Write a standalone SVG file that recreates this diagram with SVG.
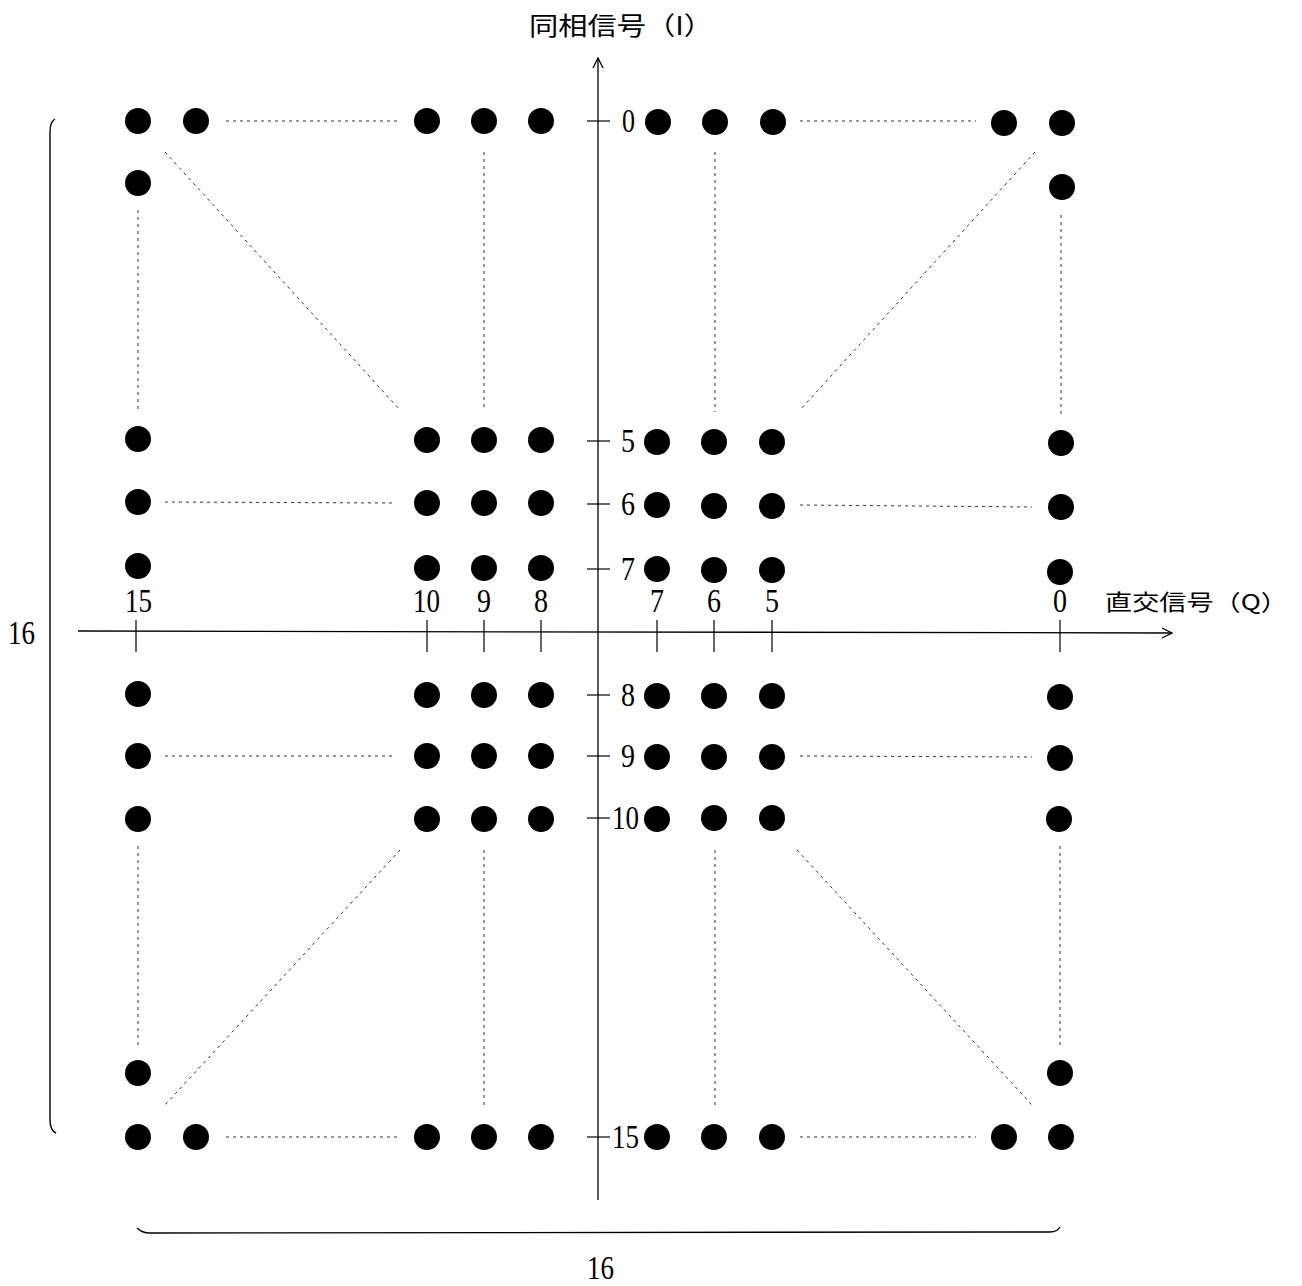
<svg xmlns="http://www.w3.org/2000/svg" width="1302" height="1286" viewBox="0 0 1302 1286">
<style>
.dot{fill:#000}
.ax{stroke:#000;stroke-width:1.3;fill:none}
.tk{stroke:#000;stroke-width:1.2}
.ds{stroke:#333;stroke-width:1;stroke-dasharray:3 4;fill:none}
.br{stroke:#000;stroke-width:1.4;fill:none}
.num{font-family:"Liberation Serif","Noto Serif CJK JP",serif;font-size:34px;fill:#000}
.lab{font-family:"Noto Sans CJK JP","Noto Sans CJK SC",sans-serif;fill:#000}
</style>
<defs>
<marker id="arr" viewBox="0 0 12 12" refX="11" refY="6" markerWidth="12" markerHeight="12" markerUnits="userSpaceOnUse" orient="auto">
<path d="M1,1 L11,6 L1,11" fill="none" stroke="#000" stroke-width="1.3"/>
</marker>
</defs>
<rect width="1302" height="1286" fill="#fff"/>
<g id="axes">
<line class="ax" x1="598" y1="1200" x2="598" y2="58" marker-end="url(#arr)"/>
<line class="ax" x1="78" y1="631" x2="1172" y2="633" marker-end="url(#arr)"/>
<text class="lab" x="529" y="35" font-size="25" textLength="184" lengthAdjust="spacingAndGlyphs">同相信号（I）</text>
<text class="lab" x="1105" y="610" font-size="22" textLength="183" lengthAdjust="spacingAndGlyphs">直交信号（Q）</text>
</g>
<g id="ticks-i">
<line class="tk" x1="587" y1="121" x2="610" y2="121"/>
<line class="tk" x1="587" y1="441" x2="610" y2="441"/>
<line class="tk" x1="587" y1="504" x2="610" y2="504"/>
<line class="tk" x1="587" y1="569" x2="610" y2="569"/>
<line class="tk" x1="587" y1="695" x2="610" y2="695"/>
<line class="tk" x1="587" y1="756" x2="610" y2="756"/>
<line class="tk" x1="587" y1="818" x2="610" y2="818"/>
<line class="tk" x1="587" y1="1137" x2="610" y2="1137"/>
<text class="num" x="622" y="132" textLength="13" lengthAdjust="spacingAndGlyphs">0</text>
<text class="num" x="621" y="452" textLength="14" lengthAdjust="spacingAndGlyphs">5</text>
<text class="num" x="621" y="515" textLength="14" lengthAdjust="spacingAndGlyphs">6</text>
<text class="num" x="621" y="580" textLength="14" lengthAdjust="spacingAndGlyphs">7</text>
<text class="num" x="621" y="706" textLength="14" lengthAdjust="spacingAndGlyphs">8</text>
<text class="num" x="621" y="767" textLength="14" lengthAdjust="spacingAndGlyphs">9</text>
<text class="num" x="612" y="829" textLength="27" lengthAdjust="spacingAndGlyphs">10</text>
<text class="num" x="612" y="1148" textLength="27" lengthAdjust="spacingAndGlyphs">15</text>
</g>
<g id="ticks-q">
<line class="tk" x1="136" y1="620" x2="136" y2="652"/>
<line class="tk" x1="427" y1="620" x2="427" y2="652"/>
<line class="tk" x1="484" y1="620" x2="484" y2="652"/>
<line class="tk" x1="541" y1="620" x2="541" y2="652"/>
<line class="tk" x1="657" y1="620" x2="657" y2="652"/>
<line class="tk" x1="714" y1="620" x2="714" y2="652"/>
<line class="tk" x1="772" y1="620" x2="772" y2="652"/>
<line class="tk" x1="1060" y1="620" x2="1060" y2="652"/>
<text class="num" x="125" y="612" textLength="27" lengthAdjust="spacingAndGlyphs">15</text>
<text class="num" x="413" y="612" textLength="27" lengthAdjust="spacingAndGlyphs">10</text>
<text class="num" x="477" y="612" textLength="14" lengthAdjust="spacingAndGlyphs">9</text>
<text class="num" x="534" y="612" textLength="14" lengthAdjust="spacingAndGlyphs">8</text>
<text class="num" x="650" y="612" textLength="14" lengthAdjust="spacingAndGlyphs">7</text>
<text class="num" x="707" y="612" textLength="14" lengthAdjust="spacingAndGlyphs">6</text>
<text class="num" x="765" y="612" textLength="14" lengthAdjust="spacingAndGlyphs">5</text>
<text class="num" x="1053" y="612" textLength="14" lengthAdjust="spacingAndGlyphs">0</text>
</g>
<g id="connectors">
<line class="ds" x1="226" y1="121" x2="400" y2="121"/>
<line class="ds" x1="800" y1="121" x2="976" y2="121"/>
<line class="ds" x1="138" y1="210" x2="138" y2="412"/>
<line class="ds" x1="165" y1="152" x2="400" y2="410"/>
<line class="ds" x1="484" y1="152" x2="484" y2="410"/>
<line class="ds" x1="715" y1="152" x2="715" y2="412"/>
<line class="ds" x1="1035" y1="152" x2="800" y2="410"/>
<line class="ds" x1="1061" y1="215" x2="1061" y2="415"/>
<line class="ds" x1="165" y1="502" x2="396" y2="503"/>
<line class="ds" x1="800" y1="505" x2="1032" y2="507"/>
<line class="ds" x1="165" y1="756" x2="396" y2="756"/>
<line class="ds" x1="800" y1="756" x2="1032" y2="757"/>
<line class="ds" x1="138" y1="846" x2="138" y2="1046"/>
<line class="ds" x1="400" y1="850" x2="165" y2="1105"/>
<line class="ds" x1="484" y1="850" x2="484" y2="1106"/>
<line class="ds" x1="715" y1="850" x2="715" y2="1106"/>
<line class="ds" x1="797" y1="850" x2="1032" y2="1105"/>
<line class="ds" x1="1060" y1="846" x2="1060" y2="1046"/>
<line class="ds" x1="226" y1="1137" x2="400" y2="1137"/>
<line class="ds" x1="800" y1="1137" x2="976" y2="1137"/>
</g>
<g id="braces">
<path class="br" d="M55,119 Q50,122 50,132 L50,1120 Q50,1130 56,1133"/>
<path class="br" d="M137,1228 Q142,1233 150,1233 L1050,1232 Q1057,1232 1060,1227"/>
<text class="num" x="8" y="644" textLength="27" lengthAdjust="spacingAndGlyphs">16</text>
<text class="num" x="587" y="1279" textLength="27" lengthAdjust="spacingAndGlyphs">16</text>
</g>
<g id="dots">
<circle class="dot" cx="138" cy="121" r="13"/><circle class="dot" cx="196" cy="121" r="13"/>
<circle class="dot" cx="427" cy="121" r="13"/><circle class="dot" cx="484" cy="121" r="13"/><circle class="dot" cx="541" cy="121" r="13"/>
<circle class="dot" cx="658" cy="122" r="13"/><circle class="dot" cx="715" cy="122" r="13"/><circle class="dot" cx="773" cy="122" r="13"/>
<circle class="dot" cx="1004" cy="123" r="13"/><circle class="dot" cx="1062" cy="123" r="13"/>
<circle class="dot" cx="138" cy="183" r="13"/><circle class="dot" cx="1062" cy="187" r="13"/>
<circle class="dot" cx="138" cy="439" r="13"/><circle class="dot" cx="427" cy="440" r="13"/><circle class="dot" cx="484" cy="440" r="13"/><circle class="dot" cx="541" cy="440" r="13"/>
<circle class="dot" cx="657" cy="442" r="13"/><circle class="dot" cx="714" cy="442" r="13"/><circle class="dot" cx="772" cy="442" r="13"/><circle class="dot" cx="1061" cy="443" r="13"/>
<circle class="dot" cx="138" cy="502" r="13"/><circle class="dot" cx="427" cy="503" r="13"/><circle class="dot" cx="484" cy="503" r="13"/><circle class="dot" cx="541" cy="503" r="13"/>
<circle class="dot" cx="657" cy="505" r="13"/><circle class="dot" cx="714" cy="506" r="13"/><circle class="dot" cx="772" cy="506" r="13"/><circle class="dot" cx="1061" cy="507" r="13"/>
<circle class="dot" cx="138" cy="566" r="13"/><circle class="dot" cx="427" cy="568" r="13"/><circle class="dot" cx="484" cy="568" r="13"/><circle class="dot" cx="541" cy="568" r="13"/>
<circle class="dot" cx="657" cy="569" r="13"/><circle class="dot" cx="714" cy="570" r="13"/><circle class="dot" cx="772" cy="570" r="13"/><circle class="dot" cx="1060" cy="572" r="13"/>
<circle class="dot" cx="138" cy="694" r="13"/><circle class="dot" cx="427" cy="695" r="13"/><circle class="dot" cx="484" cy="695" r="13"/><circle class="dot" cx="541" cy="695" r="13"/>
<circle class="dot" cx="657" cy="696" r="13"/><circle class="dot" cx="714" cy="696" r="13"/><circle class="dot" cx="772" cy="696" r="13"/><circle class="dot" cx="1060" cy="697" r="13"/>
<circle class="dot" cx="138" cy="756" r="13"/><circle class="dot" cx="427" cy="756" r="13"/><circle class="dot" cx="484" cy="756" r="13"/><circle class="dot" cx="541" cy="756" r="13"/>
<circle class="dot" cx="657" cy="757" r="13"/><circle class="dot" cx="714" cy="757" r="13"/><circle class="dot" cx="772" cy="757" r="13"/><circle class="dot" cx="1060" cy="758" r="13"/>
<circle class="dot" cx="138" cy="819" r="13"/><circle class="dot" cx="427" cy="819" r="13"/><circle class="dot" cx="484" cy="819" r="13"/><circle class="dot" cx="541" cy="819" r="13"/>
<circle class="dot" cx="657" cy="819" r="13"/><circle class="dot" cx="714" cy="818" r="13"/><circle class="dot" cx="772" cy="818" r="13"/><circle class="dot" cx="1059" cy="819" r="13"/>
<circle class="dot" cx="138" cy="1073" r="13"/><circle class="dot" cx="1060" cy="1073" r="13"/>
<circle class="dot" cx="138" cy="1137" r="13"/><circle class="dot" cx="196" cy="1137" r="13"/>
<circle class="dot" cx="427" cy="1137" r="13"/><circle class="dot" cx="484" cy="1137" r="13"/><circle class="dot" cx="541" cy="1137" r="13"/>
<circle class="dot" cx="657" cy="1137" r="13"/><circle class="dot" cx="714" cy="1137" r="13"/><circle class="dot" cx="772" cy="1137" r="13"/>
<circle class="dot" cx="1004" cy="1137" r="13"/><circle class="dot" cx="1061" cy="1137" r="13"/>
</g>
</svg>
